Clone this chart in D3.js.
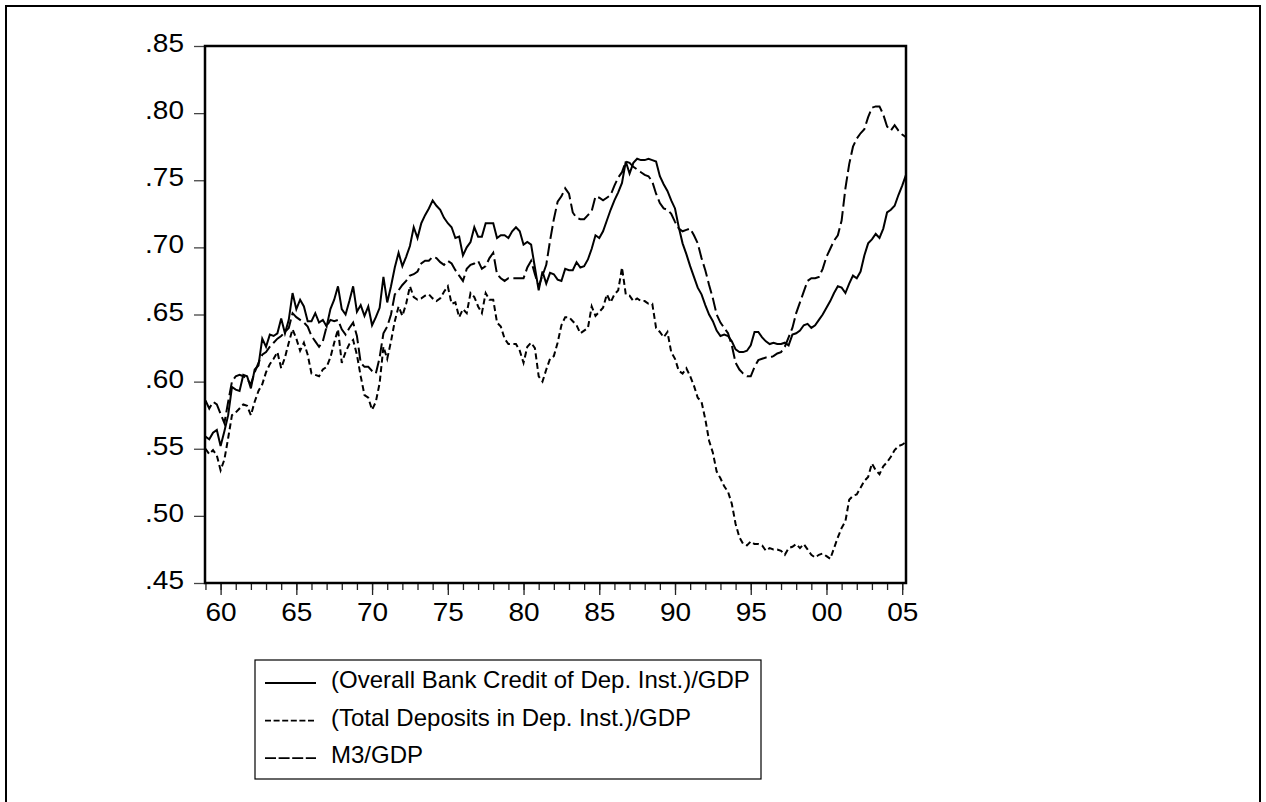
<!DOCTYPE html>
<html>
<head>
<meta charset="utf-8">
<script src="https://cdn.jsdelivr.net/npm/d3@7"></script>
<style>
  body { margin: 0; background: #fff; }
  text { font-family: "Liberation Sans", Arial, sans-serif; fill: #000; }
</style>
</head>
<body>
<script>
// quarterly ratios, 1959Q1 .. 2005Q2
var startYear = 1959;

var creditGdp = [
  .559, .557, .562, .564,
  .552, .563, .575, .596,
  .594, .593, .605, .604,
  .595, .609, .612, .632,
  .626, .635, .634, .636,
  .647, .636, .646, .666,
  .654, .661, .656, .645,
  .645, .651, .644, .646,
  .641, .654, .661, .671,
  .654, .650, .660, .671,
  .652, .657, .649, .656,
  .642, .648, .655, .678,
  .659, .671, .685, .696,
  .686, .693, .701, .715,
  .707, .718, .724, .729,
  .735, .731, .728, .722,
  .718, .715, .707, .708,
  .694, .700, .704, .715,
  .708, .708, .718, .718,
  .718, .707, .709, .709,
  .707, .712, .715, .712,
  .702, .704, .702, .685,
  .668, .682, .673, .681,
  .680, .676, .675, .684,
  .683, .683, .689, .685,
  .686, .691, .699, .709,
  .707, .712, .720, .728,
  .735, .741, .748, .764,
  .755, .763, .766, .765,
  .765, .766, .765, .764,
  .753, .747, .742, .735,
  .729, .715, .703, .695,
  .686, .678, .670, .665,
  .657, .650, .645, .638,
  .634, .635, .634, .630,
  .624, .622, .622, .623,
  .627, .637, .637, .633,
  .630, .628, .629, .628,
  .628, .629, .627, .635,
  .636, .638, .642, .643,
  .640, .642, .646, .650,
  .655, .660, .666, .671,
  .670, .666, .673, .679,
  .677, .682, .694, .703,
  .706, .710, .707, .714,
  .726, .728, .731, .739,
  .746, .754
];

var depositsGdp = [
  .550, .546, .549, .545,
  .534, .542, .558, .575,
  .577, .580, .583, .582,
  .575, .585, .593, .598,
  .607, .613, .617, .622,
  .610, .618, .629, .639,
  .632, .623, .629, .620,
  .606, .605, .604, .609,
  .611, .618, .629, .639,
  .614, .622, .628, .631,
  .620, .604, .590, .588,
  .579, .585, .599, .626,
  .617, .630, .645, .656,
  .649, .658, .671, .663,
  .661, .662, .664, .665,
  .662, .660, .662, .667,
  .671, .658, .659, .648,
  .654, .651, .666, .663,
  .656, .651, .666, .661,
  .661, .644, .641, .632,
  .628, .628, .628, .623,
  .614, .626, .629, .625,
  .604, .600, .609, .617,
  .619, .629, .642, .648,
  .648, .645, .642, .636,
  .638, .640, .656, .649,
  .652, .655, .665, .659,
  .665, .668, .685, .665,
  .664, .660, .662, .660,
  .660, .658, .658, .640,
  .637, .633, .637, .622,
  .617, .608, .606, .610,
  .604, .597, .588, .585,
  .572, .556, .547, .533,
  .528, .522, .518, .509,
  .494, .484, .479, .478,
  .481, .479, .479, .478,
  .474, .476, .475, .475,
  .474, .471, .476, .477,
  .479, .476, .479, .475,
  .471, .469, .471, .472,
  .470, .468, .476, .484,
  .491, .496, .512, .515,
  .516, .521, .526, .529,
  .539, .534, .531, .537,
  .540, .544, .549, .552,
  .553, .555
];

var m3Gdp = [
  .586, .580, .585, .583,
  .576, .569, .585, .600,
  .604, .605, .604, .602,
  .598, .607, .614, .620,
  .622, .626, .629, .632,
  .634, .637, .640, .651,
  .648, .646, .644, .641,
  .634, .630, .626, .630,
  .641, .646, .645, .646,
  .639, .635, .640, .644,
  .634, .614, .611, .611,
  .608, .606, .618, .636,
  .641, .650, .665, .668,
  .672, .675, .679, .680,
  .682, .688, .690, .690,
  .693, .692, .689, .687,
  .690, .688, .683, .679,
  .675, .684, .687, .688,
  .690, .684, .686, .692,
  .696, .680, .677, .675,
  .677, .677, .677, .677,
  .677, .685, .690, .680,
  .671, .679, .687, .705,
  .721, .734, .738, .744,
  .740, .726, .722, .721,
  .721, .724, .727, .738,
  .737, .735, .737, .739,
  .746, .752, .756, .764,
  .763, .760, .758, .756,
  .754, .753, .749, .740,
  .733, .729, .728, .725,
  .719, .714, .712, .713,
  .714, .709, .703, .692,
  .683, .672, .662, .650,
  .644, .640, .636, .627,
  .614, .609, .606, .604,
  .604, .611, .616, .617,
  .618, .618, .619, .621,
  .622, .626, .633, .640,
  .651, .659, .667, .675,
  .677, .677, .678, .684,
  .693, .699, .705, .709,
  .720, .744, .762, .775,
  .781, .785, .788, .797,
  .804, .805, .805, .799,
  .790, .787, .791, .787,
  .784, .782
];

var seriesNames = [
  "(Overall Bank Credit of Dep. Inst.)/GDP",
  "(Total Deposits in Dep. Inst.)/GDP",
  "M3/GDP"
];

var yTicks = [.45, .50, .55, .60, .65, .70, .75, .80, .85];
var xTicks = [1960, 1965, 1970, 1975, 1980, 1985, 1990, 1995, 2000, 2005];
var xTickLabels = ["60", "65", "70", "75", "80", "85", "90", "95", "00", "05"];

// ---------------------------------------------------------------
var svgWidth = 1266;
var svgHeight = 802;

var margin = { top: 46, right: 360, bottom: 219, left: 205 };
var width = svgWidth - margin.left - margin.right;     // 701
var height = svgHeight - margin.top - margin.bottom;   // 537

var svg = d3.select("body")
  .append("svg")
  .attr("width", svgWidth)
  .attr("height", svgHeight);

// outer frame
svg.append("rect")
  .attr("x", 6)
  .attr("y", 6)
  .attr("width", 1254)
  .attr("height", 820)
  .attr("fill", "none")
  .attr("stroke", "#000")
  .attr("stroke-width", 2);

var chartGroup = svg.append("g")
  .attr("transform", `translate(${margin.left}, ${margin.top})`);

var xScale = d3.scaleLinear()
  .domain([1958.97, 2005.25])
  .range([0, width]);

var yScale = d3.scaleLinear()
  .domain([.45, .85])
  .range([height, 0]);

var labelStretch = 1.12;

// y axis
var leftAxis = d3.axisLeft(yScale)
  .tickValues(yTicks)
  .tickSize(11)
  .tickFormat(d => d3.format(".2f")(d).replace(/^0/, ""));

var yAxisG = chartGroup.append("g").call(leftAxis);
yAxisG.select(".domain").remove();
yAxisG.selectAll("line").attr("stroke", "#444").attr("stroke-width", 1.3);
yAxisG.selectAll("text")
  .attr("x", 0)
  .attr("dy", "0.22em")
  .attr("transform", `translate(-21,0) scale(${labelStretch},1)`)
  .style("font-size", "25px")
  .style("font-family", "'Liberation Sans', Arial, sans-serif");

// x axis: minor yearly ticks
var minorAxis = d3.axisBottom(xScale)
  .tickValues(d3.range(1959, 2006))
  .tickSize(7)
  .tickFormat("");
var minorG = chartGroup.append("g")
  .attr("transform", `translate(0, ${height})`)
  .call(minorAxis);
minorG.select(".domain").remove();
minorG.selectAll("line").attr("stroke", "#222").attr("stroke-width", 1.3);

// x axis: major ticks with labels
var bottomAxis = d3.axisBottom(xScale)
  .tickValues(xTicks)
  .tickSize(12)
  .tickPadding(8)
  .tickFormat((d, i) => xTickLabels[i]);
var xAxisG = chartGroup.append("g")
  .attr("transform", `translate(0, ${height})`)
  .call(bottomAxis);
xAxisG.select(".domain").remove();
xAxisG.selectAll("line").attr("stroke", "#222").attr("stroke-width", 1.3);
xAxisG.selectAll("text")
  .attr("transform", `scale(${labelStretch},1)`)
  .style("font-size", "25px")
  .style("font-family", "'Liberation Sans', Arial, sans-serif");

// clip to plot area
chartGroup.append("clipPath")
  .attr("id", "plotClip")
  .append("rect")
  .attr("width", width)
  .attr("height", height);

var line = d3.line()
  .x((d, i) => xScale(startYear + i / 4))
  .y(d => yScale(d));

var styles = [
  { data: creditGdp, dash: null },
  { data: depositsGdp, dash: "6,3.5" },
  { data: m3Gdp, dash: "13,4.5" }
];

var linesGroup = chartGroup.append("g").attr("clip-path", "url(#plotClip)");

linesGroup.selectAll("path")
  .data(styles)
  .enter()
  .append("path")
  .attr("d", s => line(s.data))
  .attr("fill", "none")
  .attr("stroke", "#000")
  .attr("stroke-width", 2)
  .attr("stroke-linejoin", "miter")
  .attr("stroke-dasharray", s => s.dash);

// plot frame
chartGroup.append("rect")
  .attr("width", width)
  .attr("height", height)
  .attr("fill", "none")
  .attr("stroke", "#000")
  .attr("stroke-width", 2.5);

// legend
var legend = svg.append("g").attr("transform", "translate(255, 660)");

legend.append("rect")
  .attr("width", 506)
  .attr("height", 119)
  .attr("fill", "#fff")
  .attr("stroke", "#000")
  .attr("stroke-width", 1.2);

var legendDash = [null, "6,2.6", "11,2.6"];

var rows = legend.selectAll("g.row")
  .data(seriesNames)
  .enter()
  .append("g")
  .attr("class", "row")
  .attr("transform", (d, i) => `translate(0, ${28 + i * 37.6})`);

rows.append("line")
  .attr("x1", 10)
  .attr("x2", 61)
  .attr("y1", -5)
  .attr("y2", -5)
  .attr("stroke", "#000")
  .attr("stroke-width", 1.8)
  .attr("stroke-dasharray", (d, i) => legendDash[i]);

rows.append("text")
  .attr("x", 76)
  .attr("y", 0)
  .style("font-size", "24px")
  .text(d => d);
</script>
</body>
</html>
